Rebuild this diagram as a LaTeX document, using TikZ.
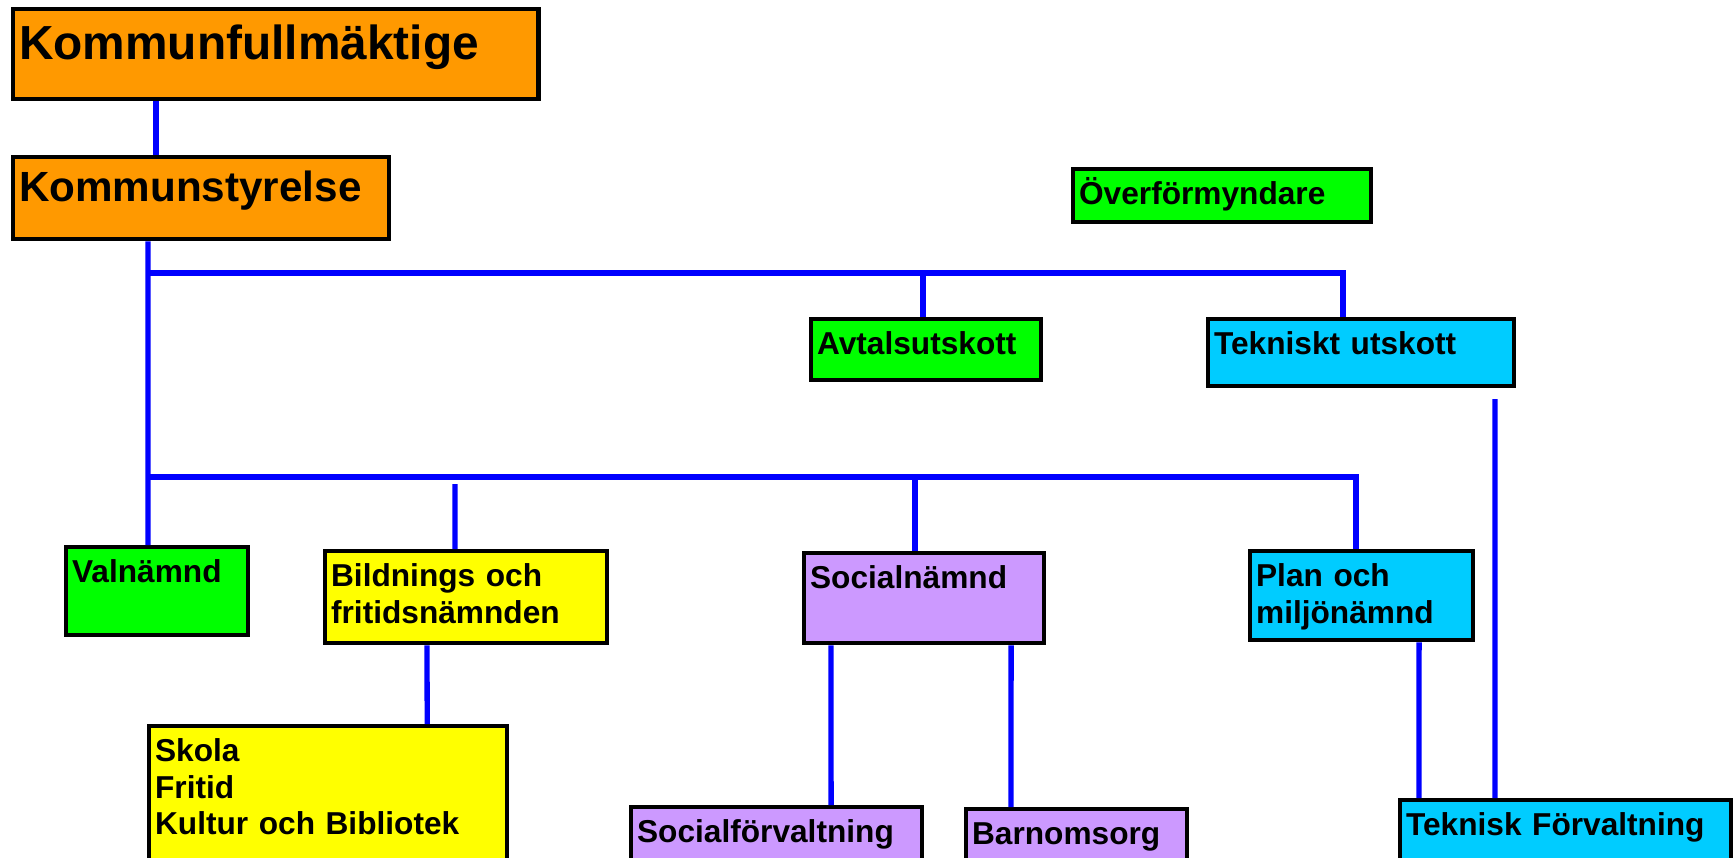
\documentclass[tikz,border=0pt]{standalone}
\usepackage{fontspec}
\setmainfont{Liberation Sans}
\definecolor{orgorange}{HTML}{FF9900}
\definecolor{orggreen}{HTML}{00FF00}
\definecolor{orgyellow}{HTML}{FFFF00}
\definecolor{orgpurple}{HTML}{CC99FF}
\definecolor{orgcyan}{HTML}{00CCFF}
\definecolor{orgblue}{HTML}{0000FF}
\tikzstyle{unit} = [rectangle, draw = black, line width = 1.2pt, anchor = north west, inner xsep = 0.06cm, inner ysep = 0pt, align = left, text height = 0.35cm, font = \bfseries\fontsize{9}{10.5}\selectfont]
\tikzstyle{orangebox} = [unit, fill = orgorange]
\tikzstyle{greenbox} = [unit, fill = orggreen]
\tikzstyle{yellowbox} = [unit, fill = orgyellow]
\tikzstyle{purplebox} = [unit, fill = orgpurple]
\tikzstyle{cyanbox} = [unit, fill = orgcyan]
\tikzstyle{link} = [line width = 1.5pt, draw = orgblue]

\begin{document}
\begin{tikzpicture}[x = 0.01cm, y = -0.01cm]
    \clip(0,0)rectangle(1733,857);
    \node(kf)[orangebox, text width = 5.13cm, text height = 0.50cm, text depth = 0.40cm, font = \bfseries\fontsize{13.6}{16}\selectfont] at (11,7) {Kommunfullmäktige};
    \node(ks)[orangebox, text width = 3.64cm, text height = 0.44cm, text depth = 0.38cm, font = \bfseries\fontsize{12}{14}\selectfont] at (11,155) {Kommunstyrelse};
    \node(ofm)[greenbox, text width = 2.86cm, text depth = 0.18cm] at (1071,167) {Överförmyndare};
    \node(avt)[greenbox, text width = 2.18cm, text depth = 0.26cm] at (809,317) {Avtalsutskott};
    \node(tu)[cyanbox, text width = 2.94cm, text depth = 0.32cm] at (1206,317) {Tekniskt utskott};
    \node(val)[greenbox, text width = 1.70cm, text depth = 0.53cm] at (64,545) {Valnämnd};
    \node(bfn)[yellowbox, text width = 2.70cm, text depth = 0.57cm] at (323,549) {Bildnings och\\fritidsnämnden};
    \node(soc)[purplebox, text width = 2.28cm, text depth = 0.55cm] at (802,551) {Socialnämnd};
    \node(pmn)[cyanbox, text width = 2.11cm, text depth = 0.54cm] at (1248,549) {Plan och\\miljönämnd};
    \node(skola)[yellowbox, text width = 3.46cm, text depth = 1.16cm] at (147,724) {Skola\\Fritid\\Kultur och Bibliotek};
    \node(sfv)[purplebox, text width = 2.79cm, text depth = 0.35cm] at (629,805) {Socialförvaltning};
    \node(barn)[purplebox, text width = 2.09cm, text depth = 0.33cm] at (964,807) {Barnomsorg};
    \node(tfv)[cyanbox, text width = 3.19cm, text depth = 0.42cm] at (1398,798) {Teknisk Förvaltning};

    \coordinate(j1) at (148,273);
    \coordinate(j2) at (148,477);
    \coordinate(gap) at (455,484);
    \coordinate(free) at (1495,399);

    \draw[link]([xshift = 1.45cm]kf.south west)--([xshift = 1.45cm]ks.north west);
    \draw[link]([xshift = 1.37cm]ks.south west)--([xshift = 0.84cm]val.north west);
    \draw[link](j1)-|([xshift = 1.37cm]tu.north west);
    \draw[link]([xshift = 1.14cm]avt.north west)--([xshift = 1.14cm]avt.north west |- j1);
    \draw[link](j2)-|([xshift = 1.08cm]pmn.north west);
    \draw[link]([xshift = 1.13cm]soc.north west)--([xshift = 1.13cm]soc.north west |- j2);
    \draw[link]([xshift = 1.32cm]bfn.north west)--(gap);
    \draw[link]([xshift = 1.04cm]bfn.south west)--([xshift = 2.80cm]skola.north west);
    \draw[link]([xshift = 0.29cm]soc.south west)--([xshift = 2.02cm]sfv.north west);
    \draw[link]([xshift = 2.09cm]soc.south west)--([xshift = 0.47cm]barn.north west);
    \draw[link]([xshift = 1.71cm]pmn.south west)--([xshift = 0.21cm]tfv.north west);
    \draw[link](free)--([xshift = 0.97cm]tfv.north west);
\end{tikzpicture}
\end{document}
